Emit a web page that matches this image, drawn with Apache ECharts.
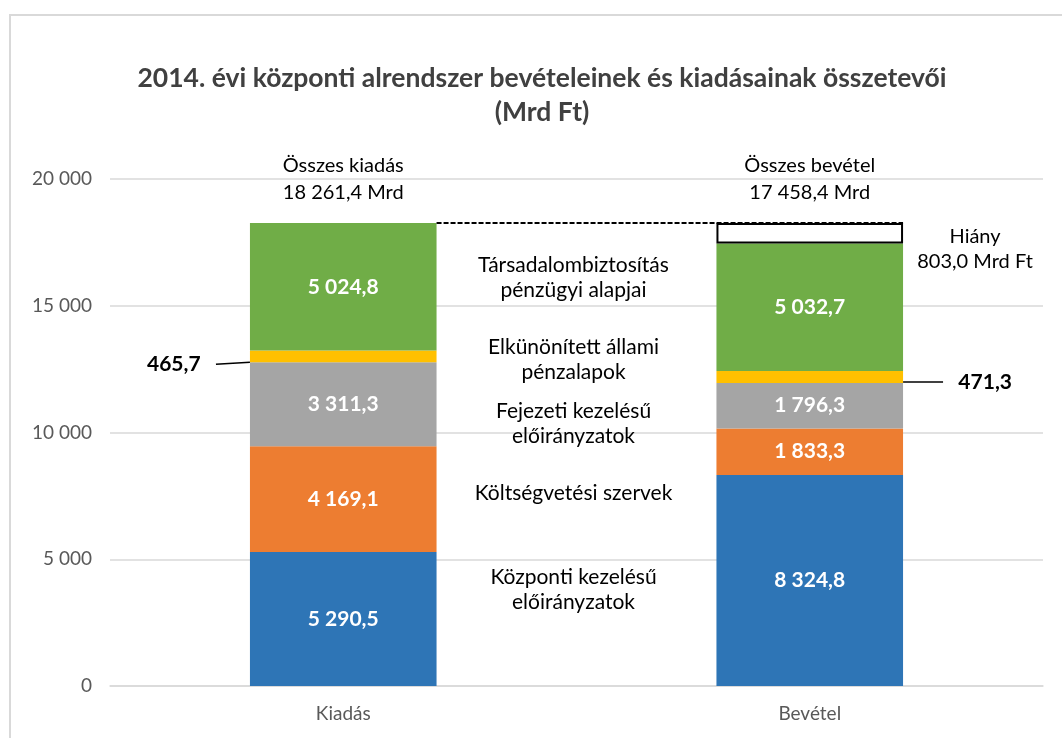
<!DOCTYPE html>
<html>
<head>
<meta charset="utf-8">
<script src="https://cdn.jsdelivr.net/npm/echarts@6/dist/echarts.min.js"></script>
<style>html,body{margin:0;padding:0;background:#fff}#main{width:1062px;height:738px}</style>
</head>
<body>
<div id="main"></div>
<script>
var categories=['Kiadás','Bevétel'];
var seriesNames=['Központi kezelésű előirányzatok','Költségvetési szervek','Fejezeti kezelésű előirányzatok','Elkülönített állami pénzalapok','Társadalombiztosítás pénzügyi alapjai'];
var seriesColors=['#2E75B6','#ED7D31','#A5A5A5','#FFC000','#70AD47'];
var kozponti=[5290.5,8324.8];
var koltsegvetesi=[4169.1,1833.3];
var fejezeti=[3311.3,1796.3];
var elkulonitett=[465.7,471.3];
var tarsadalom=[5024.8,5032.7];
var hiany=['-',803.0];
var totals=[18261.4,17458.4];
var totalTitles=['Összes kiadás','Összes bevétel'];
var yTicks=[0,5000,10000,15000,20000];
//szövegek a két oszlop között, és hogy milyen értéknél állnak
var midLabels=['Társadalombiztosítás\npénzügyi alapjai','Elkünönített állami\npénzalapok','Fejezeti kezelésű\nelőirányzatok','Költségvetési szervek','Központi kezelésű\nelőirányzatok'];
var midLabelY=[16100,12860,10330,7610,3790];

var FONT='Lato, "Open Sans", sans-serif';

function fmt(v,d){
	var s=v.toFixed(d).split('.');
	var i=s[0].replace(/\B(?=(\d{3})+(?!\d))/g,' ');
	return d?i+','+s[1]:i;
}

function barSeries(idx,data){
	return {
		name:seriesNames[idx],
		type:'bar',
		stack:'total',
		barWidth:'40%',
		data:data,
		itemStyle:{color:seriesColors[idx]},
		label:{
			show:true,
			color:'#fff',
			fontWeight:'bold',
			fontSize:21,
			fontFamily:FONT,
			formatter:function(p){return fmt(p.value,1)}
		}
	};
}

//a sárga sáv címkéi kívül, vezetővonallal (szóközökkel hagyunk rést a vonal és a szám között)
var yellow=barSeries(3,[
	{value:elkulonitett[0],label:{position:'left',color:'#000',formatter:function(p){return fmt(p.value,1)+'   '}}},
	{value:elkulonitett[1],label:{position:'right',color:'#000',formatter:function(p){return '   '+fmt(p.value,1)}}}
]);
yellow.labelLine={show:true,lineStyle:{color:'#000',width:1.5}};
yellow.labelLayout=function(p){
	return p.dataIndex==0?{dx:-29,dy:8}:{dx:35,dy:5};
};

var chart=echarts.init(document.getElementById('main'));
var option={
	animation:false,
	title:{
		text:'2014. évi központi alrendszer bevételeinek és kiadásainak összetevői\n(Mrd Ft)',
		left:542,
		textAlign:'center',
		top:61,
		padding:0,
		textStyle:{
			fontFamily:FONT,
			fontSize:26.5,
			fontWeight:'bold',
			color:'#404040',
			lineHeight:34
		}
	},
	grid:{left:110,right:19,top:179,bottom:52},
	xAxis:{
		type:'category',
		data:categories,
		axisTick:{show:false},
		axisLine:{lineStyle:{color:'#d9d9d9',width:1.5}},
		axisLabel:{color:'#595959',fontSize:19,fontFamily:FONT,margin:18}
	},
	yAxis:{
		type:'value',
		min:yTicks[0],
		max:yTicks[yTicks.length-1],
		interval:yTicks[1]-yTicks[0],
		axisLine:{show:false},
		axisTick:{show:false},
		splitLine:{lineStyle:{color:'#d9d9d9',width:1.5}},
		axisLabel:{color:'#595959',fontSize:19,fontFamily:FONT,margin:18,
			formatter:function(v){return fmt(v,0)}}
	},
	series:[
		barSeries(0,kozponti),
		barSeries(1,koltsegvetesi),
		barSeries(2,fejezeti),
		yellow,
		barSeries(4,tarsadalom),
		{
			name:'Hiány',
			type:'bar',
			stack:'total',
			barWidth:'40%',
			data:hiany,
			itemStyle:{color:'#fff',borderColor:'#000',borderWidth:2},
			label:{
				show:true,
				position:'right',
				distance:0,
				align:'center',
				offset:[72,16],
				color:'#000',
				fontSize:20,
				lineHeight:25,
				fontFamily:FONT,
				formatter:function(p){return 'Hiány\n'+fmt(p.value,1)+' Mrd Ft'}
			}
		},
		{
			name:'Összesen',
			type:'bar',
			stack:'total',
			barWidth:'40%',
			data:[0,0],
			itemStyle:{color:'transparent'},
			label:{
				show:true,
				position:'top',
				distance:17,
				color:'#000',
				fontSize:20,
				lineHeight:27,
				fontFamily:FONT,
				formatter:function(p){return totalTitles[p.dataIndex]+'\n'+fmt(totals[p.dataIndex],1)+' Mrd'}
			}
		},
		{
			//szaggatott vonal a kiadás tetejétől
			type:'custom',
			z:10,
			data:[[0,totals[0]]],
			renderItem:function(params,api){
				var y=api.value(1);
				var p0=api.coord([0,y]),p1=api.coord([1,y]);
				var half=api.size([1,0])[0]*0.4/2;
				return {
					type:'line',
					shape:{x1:p0[0]+half,y1:p0[1],x2:p1[0]+half,y2:p1[1]},
					style:{stroke:'#000',lineWidth:2,lineDash:[5,2]}
				};
			}
		}
	]
};
chart.setOption(option);

//középső feliratok
var x0=chart.convertToPixel({xAxisIndex:0},categories[0]);
var x1=chart.convertToPixel({xAxisIndex:0},categories[1]);
var graphics=[{
	type:'rect',
	shape:{x:10,y:15,width:1200,height:900},
	style:{fill:'none',stroke:'#d9d9d9',lineWidth:2},
	silent:true
}];
for(var i=0;i<midLabels.length;i++){
	graphics.push({
		type:'text',
		x:(x0+x1)/2-3,
		y:chart.convertToPixel({yAxisIndex:0},midLabelY[i]),
		style:{
			text:midLabels[i],
			align:'center',
			verticalAlign:'middle',
			fontSize:21,
			lineHeight:25,
			fontFamily:FONT,
			fill:'#000'
		}
	});
}
chart.setOption({graphic:graphics});
</script>
</body>
</html>
